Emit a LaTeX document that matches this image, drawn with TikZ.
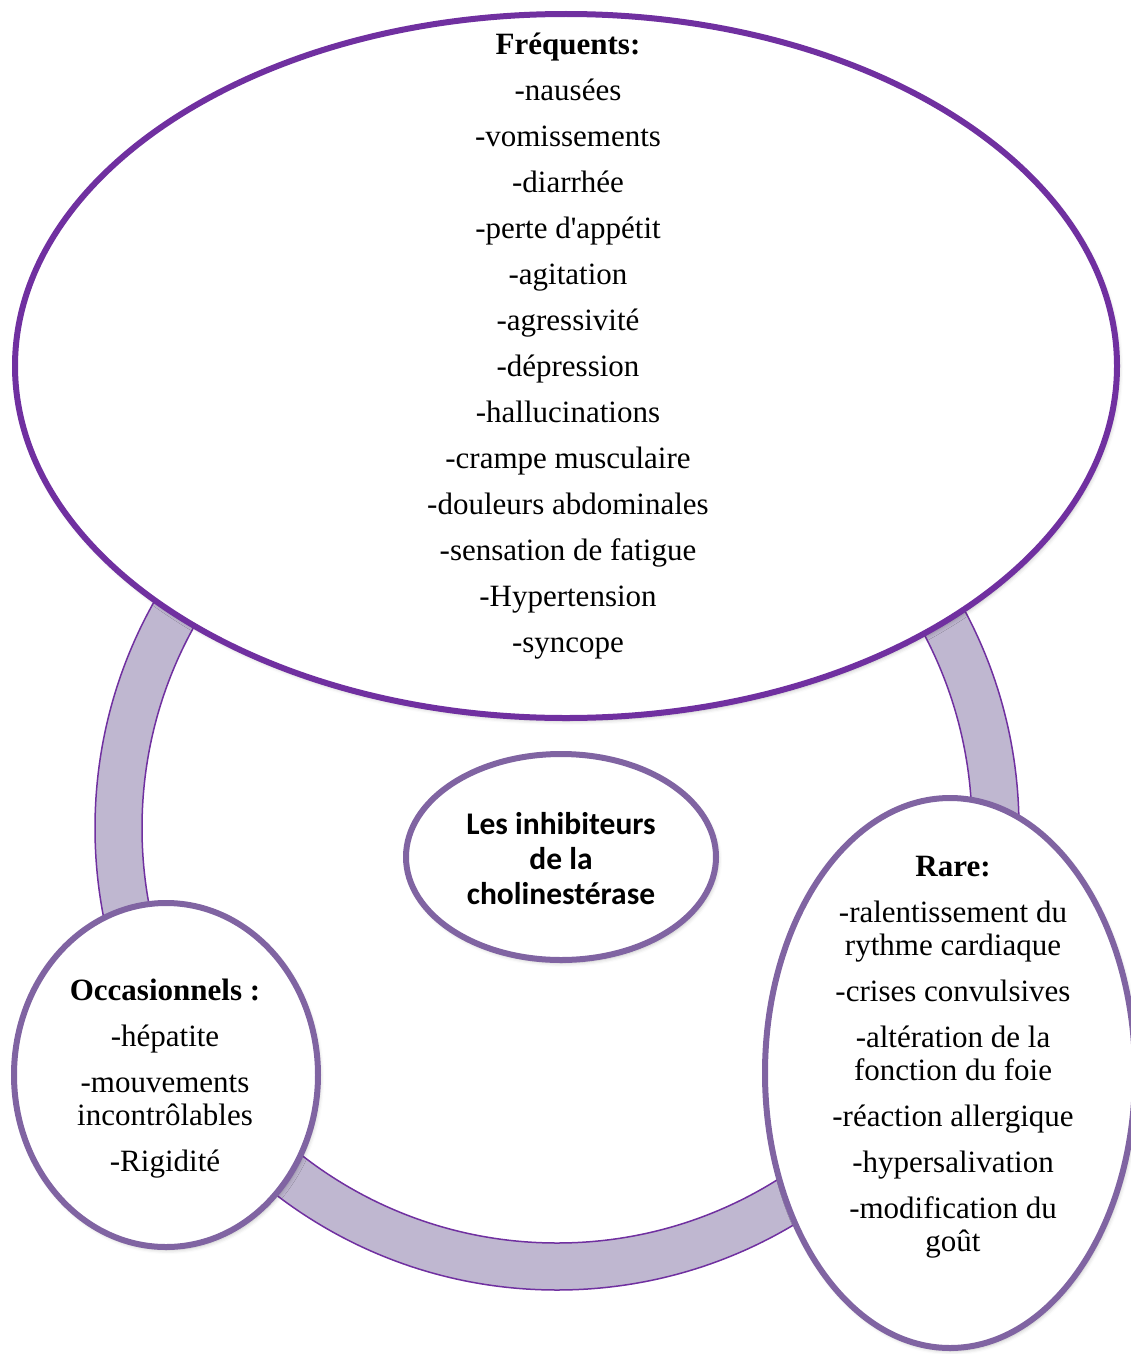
\documentclass[tikz,border=0pt]{standalone}
\usepackage{fontspec}
\setmainfont{Liberation Serif}[Ligatures=TeXOff]
\newfontfamily\headfont{Carlito}
\usetikzlibrary{shapes.geometric,shadows.blur}

\definecolor{ringfill}{HTML}{BFB7D0}
\definecolor{deeppurple}{HTML}{7030A0}
\definecolor{softpurple}{HTML}{8064A2}

\tikzset{
  bubble/.style={ellipse, draw=softpurple, line width=6pt, fill=white,
    inner sep=0pt, outer sep=0pt,
    blur shadow={shadow xshift=2pt, shadow yshift=-3pt, shadow blur radius=4pt, shadow opacity=25}},
  bigbubble/.style={bubble, draw=deeppurple},
  itemtext/.style={align=center, inner sep=0pt,
    font=\fontsize{31}{33}\selectfont},
  titletext/.style={align=center, inner sep=0pt,
    font=\headfont\bfseries\fontsize{31.5}{35}\selectfont},
}

\begin{document}
\begin{tikzpicture}[x=1pt, y=-1pt]
  \useasboundingbox (0,0) rectangle (1131,1354);

  % connecting ring behind the bubbles
  \path[fill=ringfill, draw=deeppurple, line width=1.5pt, even odd rule]
    (557,828) circle[radius=462pt] (557,828) circle[radius=415pt];

  % bubbles
  \node[bigbubble, minimum width=1102pt, minimum height=704pt] (freq) at (566,366) {};
  \node[bubble, minimum width=310pt, minimum height=206pt] (centre) at (561,857) {};
  \node[bubble, minimum width=304pt, minimum height=344pt] (occ) at (166,1075) {};
  \node[bubble, minimum width=370pt, minimum height=550pt] (rare) at (950,1073) {};

  % texts
  \node[itemtext] (freqtxt) at (568,346) {%
    \textbf{Fréquents:}\\[13pt]
    -nausées\\[13pt]
    -vomissements\\[13pt]
    -diarrhée\\[13pt]
    -perte d'appétit\\[13pt]
    -agitation\\[13pt]
    -agressivité\\[13pt]
    -dépression\\[13pt]
    -hallucinations\\[13pt]
    -crampe musculaire\\[13pt]
    -douleurs abdominales\\[13pt]
    -sensation de fatigue\\[13pt]
    -Hypertension\\[13pt]
    -syncope};

  \node[titletext] (centretxt) at (561,859) {Les inhibiteurs\\de la\\cholinestérase};

  \node[itemtext] (occtxt) at (165,1079) {%
    \textbf{Occasionnels :}\\[13pt]
    -hépatite\\[13pt]
    -mouvements\\
    incontrôlables\\[13pt]
    -Rigidité};

  \node[itemtext] (raretxt) at (953,1057) {%
    \textbf{Rare:}\\[13pt]
    -ralentissement du\\
    rythme cardiaque\\[13pt]
    -crises convulsives\\[13pt]
    -altération de la\\
    fonction du foie\\[13pt]
    -réaction allergique\\[13pt]
    -hypersalivation\\[13pt]
    -modification du\\
    goût};
\end{tikzpicture}
\end{document}
